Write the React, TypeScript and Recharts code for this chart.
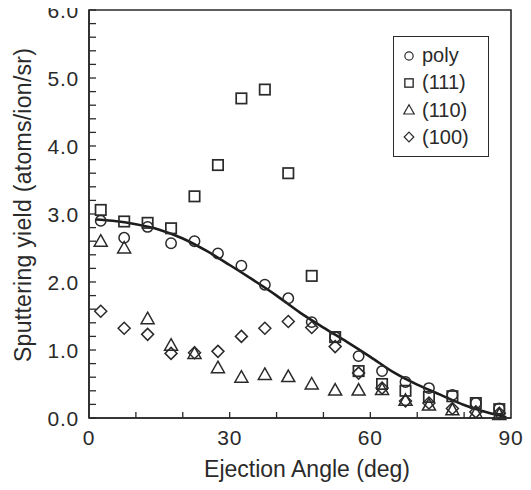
import { ComposedChart, Scatter, Line, XAxis, YAxis, ReferenceArea, Legend } from 'recharts'

// ejection angles (deg) of the measured points
const angles = [2.5, 7.5, 12.5, 17.5, 22.5, 27.5, 32.5, 37.5, 42.5, 47.5, 52.5, 57.5, 62.5, 67.5, 72.5, 77.5, 82.5, 87.5]
const polyYield = [2.9, 2.65, 2.81, 2.57, 2.6, 2.42, 2.24, 1.96, 1.76, 1.41, 1.19, 0.91, 0.69, 0.53, 0.44, 0.34, 0.22, 0.14]
const yield111 = [3.06, 2.89, 2.87, 2.79, 3.26, 3.72, 4.7, 4.83, 3.6, 2.09, 1.19, 0.69, 0.5, 0.4, 0.31, 0.32, 0.22, 0.13]
const yield110 = [2.6, 2.5, 1.46, 1.07, 0.95, 0.74, 0.6, 0.64, 0.61, 0.5, 0.41, 0.41, 0.42, 0.26, 0.19, 0.12, 0.07, 0.05]
const yield100 = [1.57, 1.32, 1.23, 0.95, 0.96, 0.98, 1.2, 1.32, 1.42, 1.33, 1.05, 0.66, 0.44, 0.25, 0.22, 0.14, 0.09, 0.07]

// fitted curve
const fitAngles = [1.5, 5, 10, 15, 20, 25, 30, 35, 40, 45, 50, 55, 60, 65, 70, 75, 80, 85, 89]
const fitYield = [2.92, 2.9, 2.85, 2.77, 2.64, 2.46, 2.25, 2.03, 1.8, 1.55, 1.33, 1.12, 0.9, 0.67, 0.49, 0.34, 0.19, 0.08, 0.01]

const xTicks = [0, 10, 20, 30, 40, 50, 60, 70, 80, 90]
const xLabelTicks = [0, 30, 60, 90]
const yTicks = [0, 0.2, 0.4, 0.6, 0.8, 1, 1.2, 1.4, 1.6, 1.8, 2, 2.2, 2.4, 2.6, 2.8, 3, 3.2, 3.4, 3.6, 3.8, 4, 4.2, 4.4, 4.6, 4.8, 5, 5.2, 5.4, 5.6, 5.8, 6]
const yLabelTicks = [0, 1, 2, 3, 4, 5, 6]

const legendNames = ['poly', '(111)', '(110)', '(100)']

const ink = '#2a2a2a'
const font = '"Liberation Sans", Arial, sans-serif'

const toPoints = (ys: number[]) => angles.map((x, i) => ({ x, y: ys[i] }))
const fitData = fitAngles.map((x, i) => ({ x, y: fitYield[i] }))

const CircleMark = ({ cx, cy }: any) => (
  <circle cx={cx} cy={cy} r={5.2} fill="none" stroke={ink} strokeWidth={1.5} />
)
const SquareMark = ({ cx, cy }: any) => (
  <rect x={cx - 5.2} y={cy - 5.2} width={10.4} height={10.4} fill="none" stroke={ink} strokeWidth={1.7} />
)
const TriangleMark = ({ cx, cy }: any) => (
  <path d={`M${cx},${cy - 6.5}L${cx + 6.5},${cy + 5}L${cx - 6.5},${cy + 5}Z`} fill="none" stroke={ink} strokeWidth={1.5} />
)
const DiamondMark = ({ cx, cy }: any) => (
  <path d={`M${cx},${cy - 6}L${cx + 6},${cy}L${cx},${cy + 6}L${cx - 6},${cy}Z`} fill="none" stroke={ink} strokeWidth={1.5} />
)

const marks = [CircleMark, SquareMark, TriangleMark, DiamondMark]

const YTick = ({ x, y, payload }: any) => {
  const v = payload.value
  const major = yLabelTicks.includes(v)
  return (
    <g>
      <line x1={x + 10} x2={x + 17} y1={y} y2={y} stroke={ink} strokeWidth={1.3} />
      {major && (
        <text x={x} y={y} dy="0.36em" textAnchor="end" fontSize={21} letterSpacing={0.8} fill={ink} fontFamily={font}>
          {v.toFixed(1)}
        </text>
      )}
    </g>
  )
}

const XTick = ({ x, y, payload }: any) => {
  const v = payload.value
  const major = xLabelTicks.includes(v)
  return (
    <g>
      {v > 0 && v < 90 && <line x1={x} x2={x} y1={y} y2={y - 6} stroke={ink} strokeWidth={1.3} />}
      {major && (
        <text x={x} y={y + 27} textAnchor="middle" fontSize={21} letterSpacing={0.8} fill={ink} fontFamily={font}>
          {v}
        </text>
      )}
    </g>
  )
}

const LegendBox = () => (
  <div
    style={{
      position: 'relative',
      width: 96,
      height: 121,
      boxSizing: 'border-box',
      border: `1.5px solid ${ink}`,
      background: '#fff',
      fontFamily: font,
      fontSize: 20,
      color: ink,
    }}
  >
    {legendNames.map((name, i) => {
      const Mark = marks[i]
      return (
        <div key={name} style={{ position: 'absolute', left: 6, top: 5 + i * 27.3, height: 27, display: 'flex', alignItems: 'center' }}>
          <svg width={18} height={18} style={{ marginRight: 4 }}>
            <g transform="translate(9 9) scale(0.8) translate(-9 -9)">
              <Mark cx={9} cy={9} />
            </g>
          </svg>
          <span>{name}</span>
        </div>
      )
    })}
  </div>
)

export default function App() {
  return (
    <div style={{ margin: -8, width: 531, height: 490, background: '#fff' }}>
      <ComposedChart width={531} height={490} margin={{ top: 10, right: 20, bottom: 0, left: 0 }}>
        <XAxis
          type="number"
          dataKey="x"
          domain={[0, 90]}
          ticks={xTicks}
          interval={0}
          tickSize={0}
          tickMargin={0}
          height={72}
          tick={<XTick />}
          axisLine={{ stroke: ink, strokeWidth: 1.6 }}
          tickLine={false}
          label={{
            content: () => (
              <text x={307} y={477} textAnchor="middle" fontSize={23} fill={ink} fontFamily={font}>
                Ejection Angle (deg)
              </text>
            ),
          }}
        />
        <YAxis
          type="number"
          dataKey="y"
          domain={[0, 6]}
          ticks={yTicks}
          interval={0}
          tickSize={0}
          tickMargin={10}
          width={89}
          tick={<YTick />}
          axisLine={{ stroke: ink, strokeWidth: 1.6 }}
          tickLine={false}
          label={{
            content: () => (
              <text
                x={23}
                y={205}
                transform="rotate(-90 23 205)"
                textAnchor="middle"
                dominantBaseline="central"
                fontSize={23}
                textLength={314}
                lengthAdjust="spacing"
                fill={ink}
                fontFamily={font}
              >
                Sputtering yield (atoms/ion/sr)
              </text>
            ),
          }}
        />
        <ReferenceArea x1={0} x2={90} y1={0} y2={6} fill="none" stroke={ink} strokeWidth={1.6} />
        <Scatter name="poly" data={toPoints(polyYield)} shape={<CircleMark />} isAnimationActive={false} />
        <Scatter name="(111)" data={toPoints(yield111)} shape={<SquareMark />} isAnimationActive={false} />
        <Scatter name="(110)" data={toPoints(yield110)} shape={<TriangleMark />} isAnimationActive={false} />
        <Scatter name="(100)" data={toPoints(yield100)} shape={<DiamondMark />} isAnimationActive={false} />
        <Line
          data={fitData}
          dataKey="y"
          type="monotone"
          dot={false}
          stroke="#1c1c1c"
          strokeWidth={2.6}
          isAnimationActive={false}
          legendType="none"
        />
        <Legend
          layout="vertical"
          align="center"
          verticalAlign="middle"
          content={<LegendBox />}
          wrapperStyle={{ position: 'absolute', left: 393, top: 36, width: 96, height: 121 }}
        />
      </ComposedChart>
    </div>
  )
}
